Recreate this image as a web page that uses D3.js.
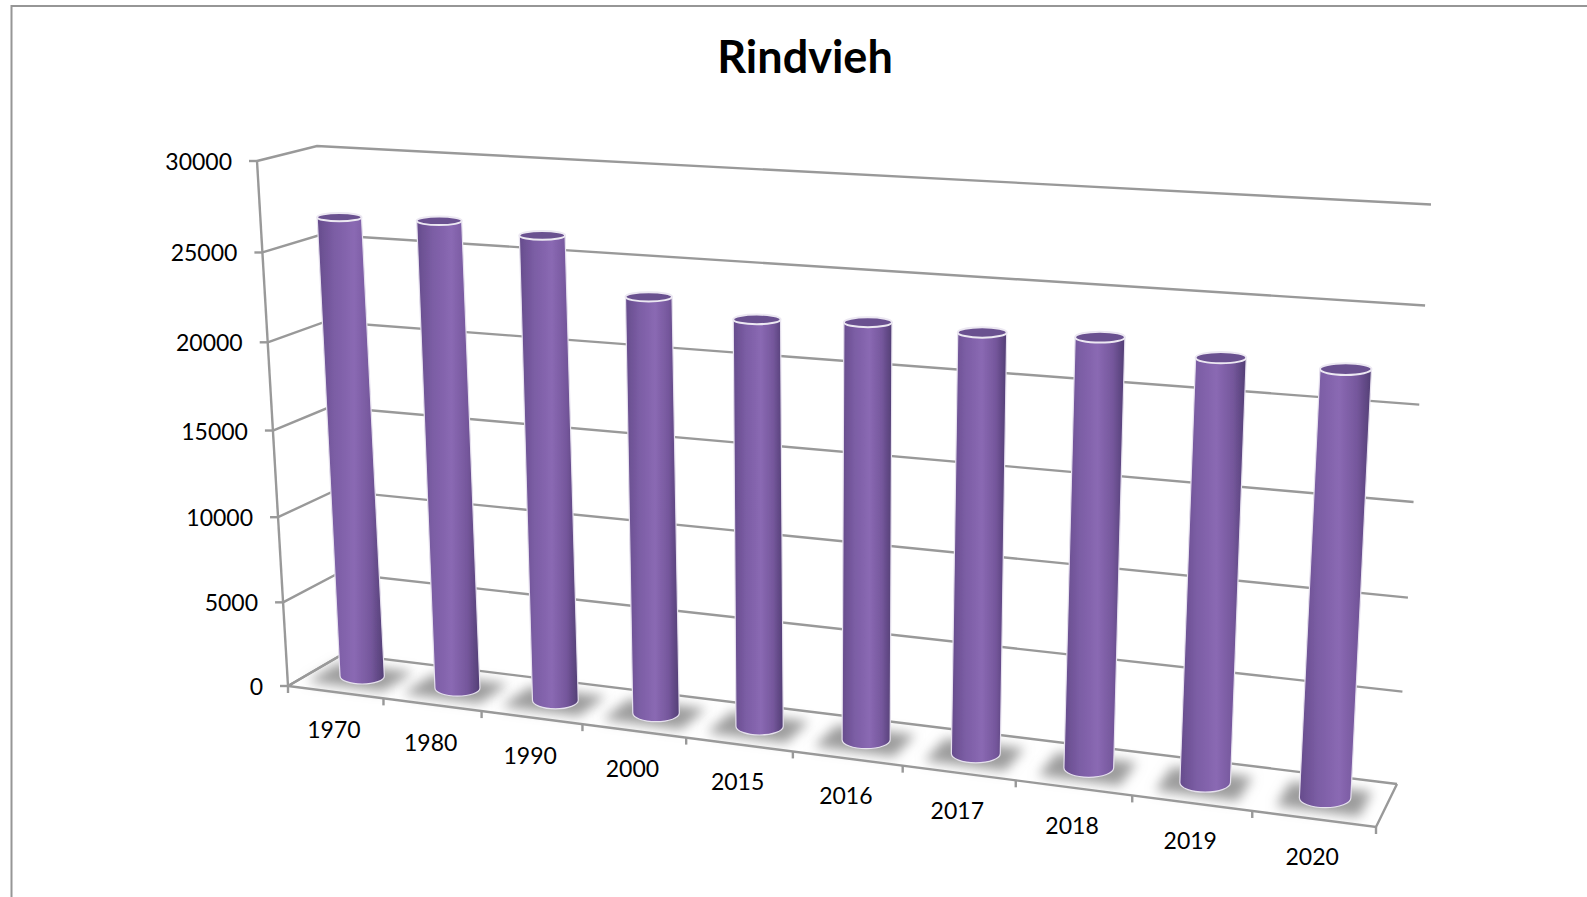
<!DOCTYPE html>
<html>
<head>
<meta charset="utf-8">
<script src="https://d3js.org/d3.v7.min.js"></script>
<style>
  html, body { margin: 0; padding: 0; background: #fff; overflow: hidden; }
  text { font-family: Lato, sans-serif; fill: #000; }
</style>
</head>
<body>
<script>
var title = "Rindvieh";
var years = ["1970","1980","1990","2000","2015","2016","2017","2018","2019","2020"];
var cattle = [26650,26800,26370,23440,22650,22930,22840,23040,22450,22340];
var valueTicks = [0,5000,10000,15000,20000,25000,30000];

var plot = d3.select("body")
             .append("svg")
             .attr("width",1587)
             .attr("height",897);

var defs = plot.append("defs");

// Cylinder shading, dark at both sides
var shade = defs.append("linearGradient").attr("id","shade");
shade.append("stop").attr("offset","0%").attr("stop-color","#664c8c");
shade.append("stop").attr("offset","25%").attr("stop-color","#7b5da4");
shade.append("stop").attr("offset","55%").attr("stop-color","#8a69b3");
shade.append("stop").attr("offset","80%").attr("stop-color","#75579c");
shade.append("stop").attr("offset","100%").attr("stop-color","#523e74");

defs.append("filter").attr("id","soft")
    .attr("x","-30%").attr("y","-60%").attr("width","160%").attr("height","220%")
    .append("feGaussianBlur").attr("stdDeviation",6);
defs.append("filter").attr("id","blur1")
    .append("feGaussianBlur").attr("stdDeviation",0.5);

// Page frame, top and left only
plot.append("path")
    .attr("d","M11.5,897V6H1587")
    .attr("fill","none")
    .attr("stroke","#969696")
    .attr("stroke-width",2);

plot.append("text")
    .text(title)
    .attr("x",805)
    .attr("y",73)
    .attr("text-anchor","middle")
    .style("font-size","45px")
    .style("font-weight","bold");

// Corners of the box on the page
var floorFrontLeft = [288,686], floorFrontRight = [1376,827],
    floorBackLeft = [343,654],  floorBackRight = [1397,784],
    topFrontLeft = [257,161],   topFrontRight = [1405,231],
    topBackLeft = [317,146],    topBackRight = [1431,204.5];

function mix(a,b,t){ return [a[0]+(b[0]-a[0])*t, a[1]+(b[1]-a[1])*t]; }

// Perspective squeeze of a 0..1 position
function squeeze(t,k){ return t/(k-(k-1)*t); }

var xBand = d3.scaleBand().domain(years).range([0,1]);
var yLinear = d3.scaleLinear().domain([0,30000]).range([0,1]);

function xPos(t){ return squeeze(t,1.155); }
function yPos(v){ return squeeze(yLinear(v),1.055); }

// u along the years, v up the value axis, w from front to back
function project(u,v,w){
    var floor = mix(mix(floorFrontLeft,floorFrontRight,u),mix(floorBackLeft,floorBackRight,u),w);
    var roof = mix(mix(topFrontLeft,topFrontRight,u),mix(topBackLeft,topBackRight,u),w);
    return mix(floor,roof,v);
}

var line = d3.line();
var gridColor = "#999999";
var grid = plot.append("g").attr("filter","url(#blur1)");

// Lines on the side wall and the back wall
grid.selectAll("path.level")
    .data(valueTicks)
    .enter()
    .append("path")
    .attr("class","level")
    .attr("d",function(d){
        var v = yPos(d);
        return line([project(0,v,0),project(0,v,1),project(1,v,1)]);
    })
    .attr("fill","none")
    .attr("stroke",gridColor)
    .attr("stroke-width",2.4);

// Value axis with its ticks
grid.append("path")
    .attr("d",line([project(0,0,0),project(0,1,0)]))
    .attr("stroke",gridColor).attr("stroke-width",2.4);

grid.selectAll("path.vtick")
    .data(valueTicks)
    .enter()
    .append("path")
    .attr("class","vtick")
    .attr("d",function(d){
        var p = project(0,yPos(d),0);
        return line([[p[0]-8,p[1]],p]);
    })
    .attr("stroke",gridColor).attr("stroke-width",2.4);

// Floor outline
grid.append("path")
    .attr("d",line([project(0,0,1),project(0,0,0),project(1,0,0),project(1,0,1)]))
    .attr("fill","none")
    .attr("stroke",gridColor).attr("stroke-width",2.4);

// Ticks under the front edge, on the year boundaries
var yearEdges = years.map(function(d){return xBand(d);}).concat([1]);
grid.selectAll("path.xtick")
    .data(yearEdges)
    .enter()
    .append("path")
    .attr("class","xtick")
    .attr("d",function(d){
        var p = project(xPos(d),0,0);
        return line([p,[p[0],p[1]+7]]);
    })
    .attr("stroke",gridColor).attr("stroke-width",2.4);

plot.selectAll("text.vlabel")
    .data(valueTicks)
    .enter()
    .append("text")
    .attr("class","vlabel")
    .text(function(d){return d;})
    .attr("x",function(d){return project(0,yPos(d),0)[0]-25;})
    .attr("y",function(d){return project(0,yPos(d),0)[1]+9;})
    .attr("text-anchor","end")
    .style("font-size","23px");

plot.selectAll("text.xlabel")
    .data(years)
    .enter()
    .append("text")
    .attr("class","xlabel")
    .text(function(d){return d;})
    .attr("x",function(d){return project(xPos(xBand(d)+xBand.bandwidth()/2),0,0)[0]-1.5;})
    .attr("y",function(d){return project(xPos(xBand(d)+xBand.bandwidth()/2),0,0)[1]+46;})
    .attr("text-anchor","middle")
    .style("font-size","23px");

var rx = d3.scaleLinear().domain([0,1]).range([22,26]);
var ryTop = d3.scaleLinear().domain([0,1]).range([4,6]);
var ryBase = d3.scaleLinear().domain([0,1]).range([8,10]);

var cylinders = years.map(function(d,i){
    var u = xPos(xBand(d)+xBand.bandwidth()/2);
    return {
        u: u,
        base: project(u,0,0.5),
        top: project(u,yPos(cattle[i]),0.5)
    };
});

// Soft shadows lying on the floor
plot.selectAll("path.shadow")
    .data(cylinders)
    .enter()
    .append("path")
    .attr("class","shadow")
    .attr("d",function(d){
        var du = (rx(d.u)+16)/1088;
        return line([project(d.u-du,0,0.18),project(d.u+du,0,0.18),
                     project(d.u+du,0,0.76),project(d.u-du,0,0.76)])+"Z";
    })
    .attr("fill","#9c9c9c")
    .attr("filter","url(#soft)");

var bars = plot.selectAll("g.cyl")
    .data(cylinders)
    .enter()
    .append("g")
    .attr("class","cyl")
    .attr("filter","url(#blur1)");

// Body of the cylinder
bars.append("path")
    .attr("d",function(d){
        var r = rx(d.u), b = ryBase(d.u), t = ryTop(d.u);
        return "M"+(d.top[0]-r)+","+d.top[1]
             + "L"+(d.base[0]-r)+","+d.base[1]
             + "A"+r+","+b+" 0 0 0 "+(d.base[0]+r)+","+d.base[1]
             + "L"+(d.top[0]+r)+","+d.top[1]
             + "A"+r+","+t+" 0 0 1 "+(d.top[0]-r)+","+d.top[1]+"Z";
    })
    .attr("fill","url(#shade)");

// Light rim along the bottom and the sides
bars.append("path")
    .attr("d",function(d){
        var r = rx(d.u), b = ryBase(d.u);
        return "M"+(d.top[0]-r)+","+d.top[1]
             + "L"+(d.base[0]-r)+","+d.base[1]
             + "A"+r+","+b+" 0 0 0 "+(d.base[0]+r)+","+d.base[1]
             + "L"+(d.top[0]+r)+","+d.top[1];
    })
    .attr("fill","none")
    .attr("stroke","#e6e1ee")
    .attr("stroke-width",1.2);

// Top cap
bars.append("ellipse")
    .attr("cx",function(d){return d.top[0];})
    .attr("cy",function(d){return d.top[1];})
    .attr("rx",function(d){return rx(d.u);})
    .attr("ry",function(d){return ryTop(d.u);})
    .attr("fill","#6a5190")
    .attr("stroke","#ece8f2")
    .attr("stroke-width",2);
</script>
</body>
</html>
